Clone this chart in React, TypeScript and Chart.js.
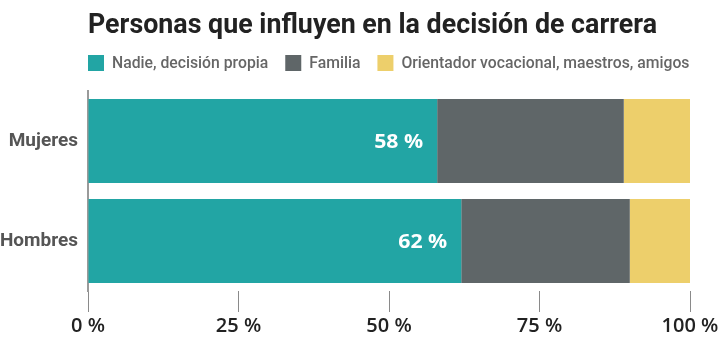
import React, { useEffect, useRef } from "react";
import { Chart, registerables } from "chart.js";

Chart.register(...registerables);

const titleText = "Personas que influyen en la decisión de carrera";
const categories = ["Mujeres", "Hombres"];
const seriesNames = ["Nadie, decisión propia", "Familia", "Orientador vocacional, maestros, amigos"];
const nadie = [58, 62];
const familia = [31, 28];
const otros = [11, 10];
const seriesColors = ["#22A5A4", "#5F6668", "#EDCF6B"];
const xTickValues = [0, 25, 50, 75, 100];

const headerPlugin = {
  id: "header",
  afterDraw(chart: any) {
    const ctx = chart.ctx as CanvasRenderingContext2D;
    ctx.save();
    // title
    ctx.font = "bold 27px Roboto";
    ctx.fillStyle = "#222222";
    ctx.textBaseline = "alphabetic";
    ctx.textAlign = "left";
    const tw = ctx.measureText(titleText).width;
    const tsx = 569 / tw;
    ctx.save();
    ctx.translate(88, 33);
    ctx.scale(tsx, 1);
    ctx.fillText(titleText, 0, 0);
    ctx.restore();
    // legend
    ctx.font = "500 16px Roboto";
    const lw = ctx.measureText(seriesNames[2]).width;
    const lsx = 288 / lw;
    let x = 88;
    seriesNames.forEach((name, i) => {
      ctx.fillStyle = seriesColors[i];
      ctx.fillRect(x, 55, 16, 16);
      x += 16 + 8;
      const w = ctx.measureText(name).width * lsx;
      ctx.fillStyle = "#666666";
      ctx.save();
      ctx.translate(x, 68);
      ctx.scale(lsx, 1);
      ctx.fillText(name, 0, 0);
      ctx.restore();
      x += w + 17;
    });
    ctx.restore();
  },
};

const valueLabelPlugin = {
  id: "valueLabels",
  afterDatasetsDraw(chart: any) {
    const ctx = chart.ctx as CanvasRenderingContext2D;
    const meta = chart.getDatasetMeta(0);
    ctx.save();
    ctx.font = "bold 20px 'Open Sans'";
    ctx.fillStyle = "#ffffff";
    ctx.textAlign = "right";
    ctx.textBaseline = "middle";
    meta.data.forEach((el: any, i: number) => {
      const txt = nadie[i] + " %";
      const w = ctx.measureText(txt).width;
      const sx = 49 / w;
      ctx.save();
      ctx.translate(el.x - 14, el.y + 1);
      ctx.scale(sx, 1);
      ctx.fillText(txt, 0, 0);
      ctx.restore();
    });
    ctx.restore();
  },
};

export default function App() {
  const ref = useRef<HTMLCanvasElement>(null);
  useEffect(() => {
    if (!ref.current) return;
    const chart = new Chart(ref.current, {
      type: "bar",
      data: {
        labels: categories,
        datasets: [nadie, familia, otros].map((d, i) => ({
          label: seriesNames[i],
          data: d,
          backgroundColor: seriesColors[i],
          borderWidth: 0,
          barPercentage: 0.84,
          categoryPercentage: 1,
        })),
      },
      options: {
        indexAxis: "y",
        responsive: false,
        animation: false,
        devicePixelRatio: 1,
        layout: { padding: { top: 91, right: 33, bottom: 0, left: 0 } },
        plugins: {
          legend: { display: false },
          title: { display: false },
          tooltip: { enabled: false },
        },
        scales: {
          x: {
            stacked: true,
            min: 0,
            max: 100,
            afterBuildTicks: (scale: any) => {
              scale.ticks = xTickValues.map((v) => ({ value: v }));
            },
            afterFit: (scale: any) => {
              scale.height = 56;
            },
            grid: {
              drawOnChartArea: false,
              drawTicks: true,
              tickLength: 21,
              color: "#8a8a8a",
              lineWidth: 1,
            },
            border: { display: false },
            ticks: {
              autoSkip: false,
              maxRotation: 0,
              padding: 2,
              color: "#222222",
              font: { family: "'Open Sans'", size: 20, weight: "600" },
              callback: (v: any) => v + " %",
            },
          },
          y: {
            stacked: true,
            afterFit: (scale: any) => {
              scale.width = 88;
            },
            grid: { display: false, drawTicks: false },
            border: { display: true, color: "#9a9a9a", width: 2 },
            ticks: {
              padding: 10,
              color: "#555555",
              font: { family: "Roboto", size: 19, weight: "bold" },
            },
          },
        },
      },
      plugins: [headerPlugin, valueLabelPlugin],
    } as any);
    return () => chart.destroy();
  }, []);
  return (
    <div style={{ position: "fixed", left: 0, top: 0, width: 723, height: 347, background: "#fff" }}>
      <canvas ref={ref} width={723} height={347} />
    </div>
  );
}
